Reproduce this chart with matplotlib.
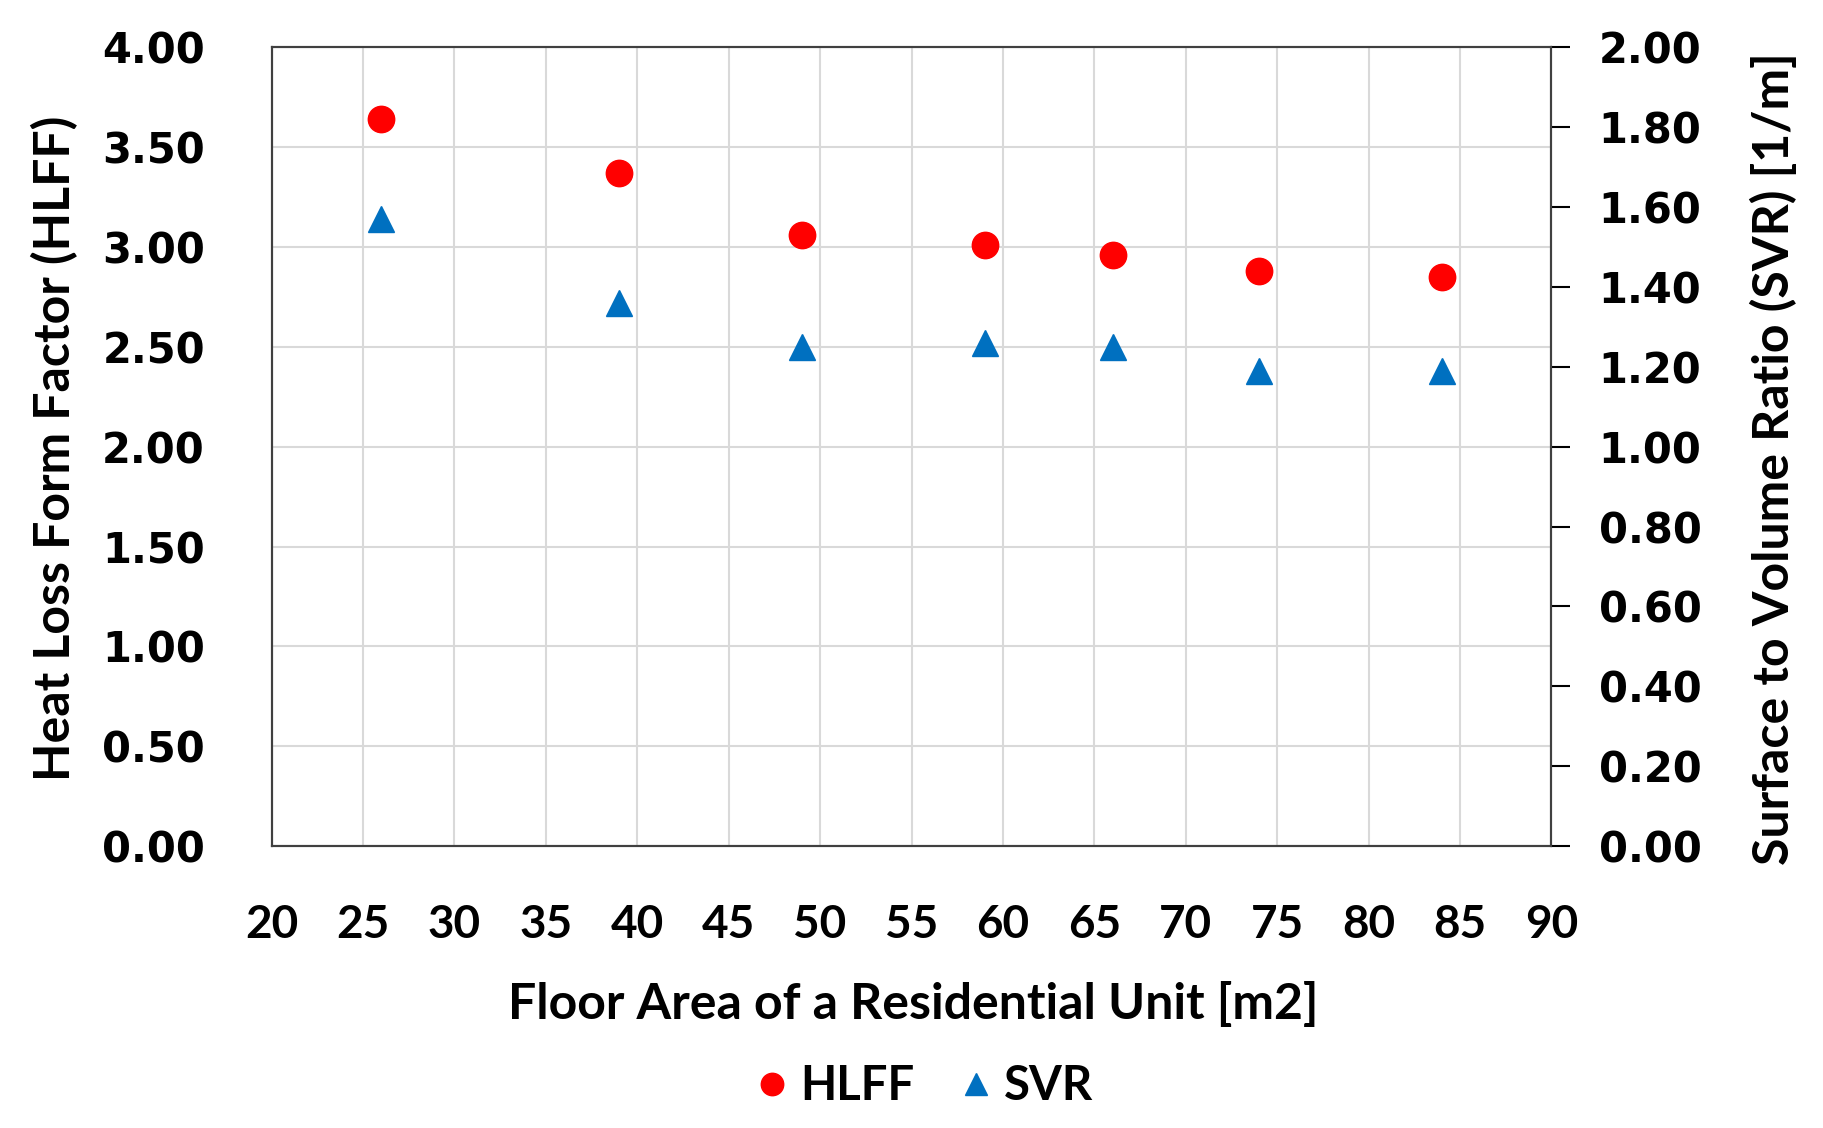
import matplotlib.pyplot as plt

# floor area of a residential unit [m2]
floor_area = [26, 39, 49, 59, 66, 74, 84]
# heat loss form factor (left axis)
hlff = [3.64, 3.37, 3.06, 3.01, 2.96, 2.88, 2.85]
# surface to volume ratio [1/m] (right axis)
svr = [1.57, 1.36, 1.25, 1.26, 1.25, 1.19, 1.19]

x_ticks = list(range(20, 95, 5))
left_ticks = [0.0, 0.5, 1.0, 1.5, 2.0, 2.5, 3.0, 3.5, 4.0]
right_ticks = [0.0, 0.2, 0.4, 0.6, 0.8, 1.0, 1.2, 1.4, 1.6, 1.8, 2.0]

label_font = 'Lato'
tick_font = 'DejaVu Sans'


def main():
    fig = plt.figure(figsize=(18.23, 11.28), dpi=100)
    ax = fig.add_axes([0.149, 0.250, 0.702, 0.708])
    ax2 = ax.twinx()

    ax.set_xlim(20, 90)
    ax.set_ylim(0, 4)
    ax2.set_ylim(0, 2)

    ax.grid(True, color='#d9d9d9', linewidth=1.5)
    ax.set_axisbelow(True)

    h1, = ax.plot(floor_area, hlff, linestyle='none', marker='o',
                  markersize=19, color='#ff0000', label='HLFF')
    h2, = ax2.plot(floor_area, svr, linestyle='none', marker='^',
                   markersize=19, color='#0070c0', label='SVR')

    ax.set_xticks(x_ticks)
    ax.set_yticks(left_ticks)
    ax2.set_yticks(right_ticks)
    ax.set_yticklabels([f'{v:.2f}' for v in left_ticks],
                       family=tick_font, weight='bold', fontsize=30)
    ax2.set_yticklabels([f'{v:.2f}' for v in right_ticks],
                        family=tick_font, weight='bold', fontsize=30)
    ax.set_xticklabels([str(v) for v in x_ticks],
                       family=label_font, weight='bold', fontsize=33)

    ax.tick_params(axis='x', length=0, pad=42)
    ax.tick_params(axis='y', length=0, pad=48)
    ax2.tick_params(axis='y', length=14, width=1.5, direction='out', pad=20)

    for spine in list(ax.spines.values()) + list(ax2.spines.values()):
        spine.set_color('#404040')
        spine.set_linewidth(1.5)

    fig.text(0.030, 0.603, 'Heat Loss Form Factor (HLFF)', rotation=90,
             ha='center', va='center', family=label_font, weight='bold',
             fontsize=36)
    fig.text(0.973, 0.593, 'Surface to Volume Ratio (SVR) [1/m]', rotation=90,
             ha='center', va='center', family=label_font, weight='bold',
             fontsize=36)
    fig.text(0.501, 0.110, 'Floor Area of a Residential Unit [m2]',
             ha='center', va='center', family=label_font, weight='bold',
             fontsize=36)

    fig.legend(handles=[h1, h2], loc='center', bbox_to_anchor=(0.505, 0.037),
               ncol=2, frameon=False, handletextpad=0.1, columnspacing=0.8,
               handlelength=1.0, markerscale=0.85,
               prop={'family': label_font, 'weight': 'bold', 'size': 34})

    fig.savefig('out.png', dpi=100)


if __name__ == '__main__':
    main()
